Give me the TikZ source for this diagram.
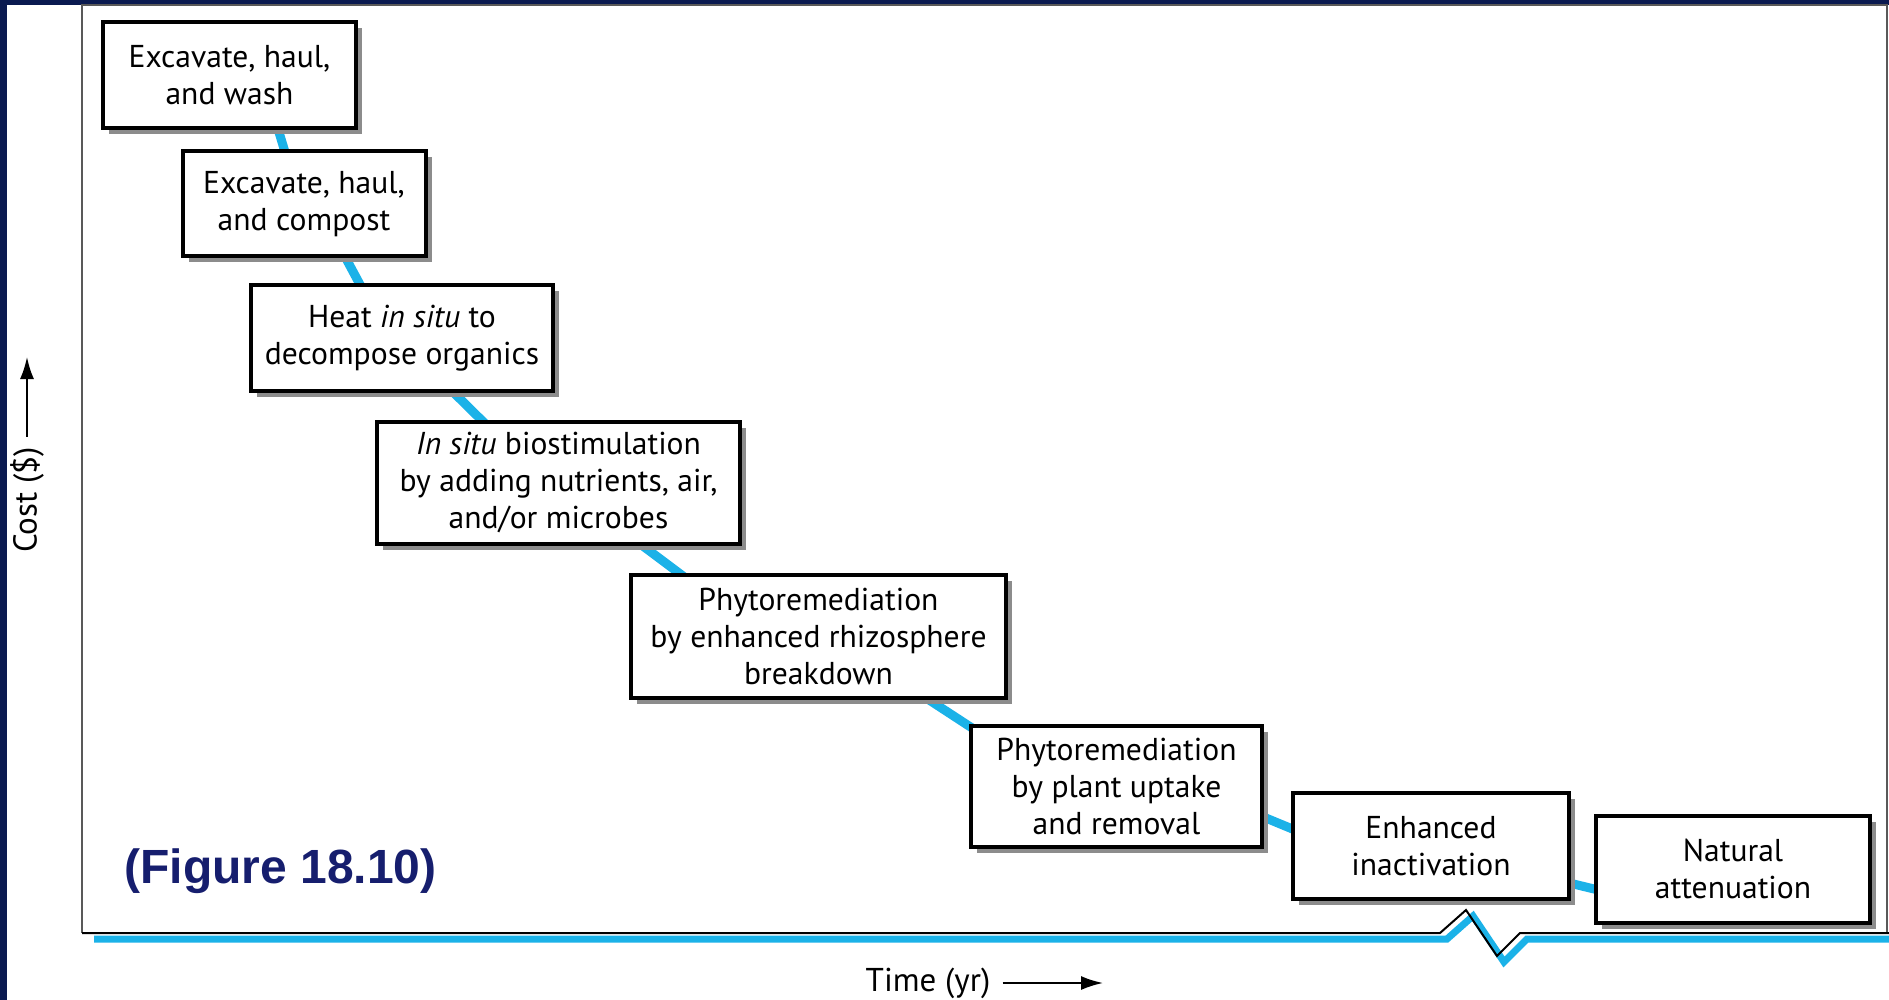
\documentclass[tikz,border=0pt]{standalone}
\usepackage{fontspec}
\setmainfont{PT Sans}
\newfontfamily\labelfont{Liberation Sans}
\usetikzlibrary{calc,shadows,backgrounds,arrows.meta}

\definecolor{navybg}{RGB}{10,26,80}
\definecolor{linkblue}{RGB}{27,178,232}
\definecolor{figlabel}{RGB}{22,30,110}

\tikzset{
  stage/.style={draw=black, line width=2pt, fill=white, align=center, inner sep=0pt,
    font=\fontsize{15.8}{18.5}\selectfont,
    drop shadow={shadow xshift=3pt, shadow yshift=-3pt, fill=gray!90, opacity=1}},
  link/.style={draw=linkblue, line width=4.5pt, shorten <=-5pt, shorten >=-5pt},
  axislabel/.style={font=\fontsize{16.5}{19}\selectfont, inner sep=0pt},
  axisarrow/.style={-{Latex[length=11pt,width=7pt]}, line width=1pt}
}

\begin{document}
\begin{tikzpicture}[x=0.5pt, y=-0.5pt]
    \useasboundingbox (0,0) rectangle (1889,1000);

    % Background and frame
    \begin{scope}[on background layer]
        \fill[navybg] (0,0) rectangle (1889,1000);
        \fill[white] (7,5) rectangle (1889,1000);
        \draw[gray!70!black, line width=1pt] (82,933) -- (82,5) -- (1887,5) -- (1887,933);
    \end{scope}

    % Remediation options, most to least costly
    \node[stage, minimum width=126.5pt, minimum height=53pt] (wash) at (229.5,75) {Excavate, haul,\\and wash};
    \node[stage, minimum width=121.5pt, minimum height=52.5pt] (compost) at (304,204) {Excavate, haul,\\and compost};
    \node[stage, minimum width=151pt, minimum height=53pt] (heat) at (402,338) {Heat \textit{in situ} to\\decompose organics};
    \node[stage, minimum width=181.5pt, minimum height=61pt] (biostim) at (558.5,483) {\textit{In situ} biostimulation\\by adding nutrients, air,\\and/or microbes};
    \node[stage, minimum width=187.5pt, minimum height=61.5pt] (rhizo) at (818.5,636) {Phytoremediation\\by enhanced rhizosphere\\breakdown};
    \node[stage, minimum width=145.5pt, minimum height=60.5pt] (uptake) at (1116.5,786) {Phytoremediation\\by plant uptake\\and removal};
    \node[stage, minimum width=138pt, minimum height=53pt] (inact) at (1431,846) {Enhanced\\inactivation};
    \node[stage, minimum width=137pt, minimum height=53.5pt] (natural) at (1733,869) {Natural\\attenuation};

    % Cost curve behind the boxes
    \begin{scope}[on background layer]
        \draw[link] ($(wash.south west)!0.69!(wash.south east)$) -- ($(compost.north west)!0.42!(compost.north east)$);
        \draw[link] ($(compost.south west)!0.67!(compost.south east)$) -- ($(heat.north west)!0.36!(heat.north east)$);
        \draw[link] ($(heat.south west)!0.67!(heat.south east)$) -- ($(biostim.north west)!0.29!(biostim.north east)$);
        \draw[link] ($(biostim.south west)!0.73!(biostim.south east)$) -- ($(rhizo.north west)!0.13!(rhizo.north east)$);
        \draw[link] ($(rhizo.south west)!0.79!(rhizo.south east)$) -- ($(uptake.north west)!0.02!(uptake.south west)$);
        \draw[link] ($(uptake.north east)!0.75!(uptake.south east)$) -- ($(inact.north west)!0.34!(inact.south west)$);
        \draw[link] ($(inact.north east)!0.84!(inact.south east)$) -- ($(natural.north west)!0.68!(natural.south west)$);
    \end{scope}

    % Time axis with break
    \draw[linkblue, line width=3.5pt] (94,939) -- (1447,939) -- (1473,916) -- (1504,962) -- (1527,939) -- (1889,939);
    \draw[black, line width=1pt] (82,933) -- (1440,933) -- (1466,910) -- (1497,956) -- (1520,933) -- (1889,933);

    % Axis labels
    \node[axislabel, rotate=90] (cost) at (27,500) {Cost (\$)};
    \coordinate (costtip) at (27,357);
    \draw[axisarrow] ([yshift=5pt]cost.east) -- (costtip);
    \node[axislabel] (time) at (928,983) {Time (yr)};
    \coordinate (timetip) at (1103,983);
    \draw[axisarrow] ([xshift=6pt]time.east) -- (timetip);

    \node[font=\labelfont\bfseries\fontsize{24}{28}\selectfont, text=figlabel, anchor=west, inner sep=0pt] (figno) at (124,871) {(Figure 18.10)};
\end{tikzpicture}
\end{document}
